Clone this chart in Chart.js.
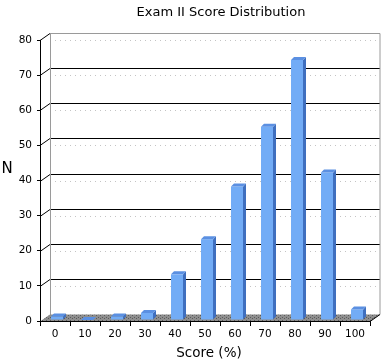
<!DOCTYPE html>
<html>
<head>
<meta charset="utf-8">
<script src="https://cdn.jsdelivr.net/npm/chart.js@4/dist/chart.umd.min.js"></script>
<style>
  html, body { margin: 0; padding: 0; background: #fff; }
</style>
</head>
<body>
<canvas id="scoreChart" width="390" height="364"></canvas>
<script>
// Exam II — score histogram, drawn as a faux-3D column chart

const CATEGORIES = ["0", "10", "20", "30", "40", "50", "60", "70", "80", "90", "100"];
const COUNTS = [1, 0, 1, 2, 13, 23, 38, 55, 74, 42, 3];
const Y_TICKS = [0, 10, 20, 30, 40, 50, 60, 70, 80];

const TITLE = "Exam II Score Distribution";
const X_TITLE = "Score (%)";
const Y_TITLE = "N";

const FONT = "'DejaVu Sans', Verdana, sans-serif";
const WALL_DX = 10, WALL_DY = 7;   // depth of the back wall
const BAR_DX = 3, BAR_DY = 3;      // depth of each column

function line(ctx, x1, y1, x2, y2) {
  ctx.beginPath();
  ctx.moveTo(x1, y1);
  ctx.lineTo(x2, y2);
  ctx.stroke();
}

function floorPattern(ctx) {
  const c = document.createElement("canvas");
  c.width = 4; c.height = 3;
  const p = c.getContext("2d");
  p.fillStyle = "#8e8e8e";
  p.fillRect(0, 0, 4, 3);
  p.fillStyle = "#5a5a5a";
  p.fillRect(0, 0, 1, 1);
  p.fillRect(2, 2, 1, 1);
  return ctx.createPattern(c, "repeat");
}

const wall3d = {
  id: "wall3d",
  beforeDatasetsDraw(chart) {
    const { ctx, chartArea: { left, right, bottom }, scales: { y } } = chart;
    const bl = left + WALL_DX, br = right + WALL_DX;
    const yMax = Y_TICKS[Y_TICKS.length - 1];
    const bt = Math.round(y.getPixelForValue(yMax)) - WALL_DY + 0.5;
    const bb = Math.round(y.getPixelForValue(0)) - WALL_DY + 0.5;

    ctx.save();
    ctx.lineWidth = 1;

    // faint dotted rows on the wall
    ctx.strokeStyle = "#c4c4c4";
    ctx.setLineDash([1, 4]);
    Y_TICKS.slice(1).forEach(v => {
      const py = Math.round(y.getPixelForValue(v)) + 0.5;
      line(ctx, bl, py, br, py);
    });
    ctx.setLineDash([]);

    // back grid lines and the slanted ticks that join them
    Y_TICKS.slice(1).forEach(v => {
      const fy = Math.round(y.getPixelForValue(v)) + 0.5;
      const by = fy - WALL_DY;
      ctx.strokeStyle = "#000";
      if (v < yMax) line(ctx, bl, by, br, by);
      line(ctx, left, fy, bl, by);
    });

    // wall edges
    ctx.strokeStyle = "#9a9a9a";
    line(ctx, bl, bt, br, bt);
    line(ctx, bl + 0.5, bt, bl + 0.5, bb);
    line(ctx, br, bt, br, bb);

    // floor
    const fb = Math.round(bottom) + 0.5;
    ctx.fillStyle = floorPattern(ctx);
    ctx.beginPath();
    ctx.moveTo(left, fb);
    ctx.lineTo(right, fb);
    ctx.lineTo(br, bb);
    ctx.lineTo(bl, bb);
    ctx.closePath();
    ctx.fill();
    ctx.strokeStyle = "#000";
    line(ctx, left, fb, right, fb);
    line(ctx, right, fb, br, bb);
    ctx.restore();

    // columns sit a little behind the front edge
    ctx.save();
    ctx.translate(2, -1);
  },
  afterDatasetsDraw(chart) {
    const { ctx } = chart;
    chart.getDatasetMeta(0).data.forEach(bar => {
      const { x, y, base, width } = bar.getProps(["x", "y", "base", "width"], true);
      const l = x - width / 2, r = x + width / 2;
      // side face
      ctx.fillStyle = "#3f6fbf";
      ctx.beginPath();
      ctx.moveTo(r, y);
      ctx.lineTo(r + BAR_DX, y - BAR_DY);
      ctx.lineTo(r + BAR_DX, base - BAR_DY);
      ctx.lineTo(r, base);
      ctx.closePath();
      ctx.fill();
      // top face
      ctx.fillStyle = "#5b90e2";
      ctx.beginPath();
      ctx.moveTo(l, y);
      ctx.lineTo(l + BAR_DX, y - BAR_DY);
      ctx.lineTo(r + BAR_DX, y - BAR_DY);
      ctx.lineTo(r, y);
      ctx.closePath();
      ctx.fill();
    });
    ctx.restore();
  },
  afterDraw(chart) {
    const { ctx } = chart;
    ctx.save();
    ctx.fillStyle = "#000";
    ctx.textAlign = "center";
    ctx.textBaseline = "alphabetic";
    ctx.font = "13px " + FONT;
    ctx.fillText(TITLE, 221, 16);
    ctx.font = "13.5px " + FONT;
    ctx.fillText(X_TITLE, 209, 357);
    ctx.font = "15px " + FONT;
    ctx.fillText(Y_TITLE, 7, 173);
    ctx.restore();
  }
};

new Chart(document.getElementById("scoreChart"), {
  type: "bar",
  data: {
    labels: CATEGORIES,
    datasets: [{
      data: COUNTS,
      backgroundColor: "#72acf6",
      borderWidth: 0,
      barPercentage: 0.4,
      categoryPercentage: 1.0,
    }],
  },
  options: {
    responsive: false,
    animation: false,
    layout: { padding: { top: 40, right: 20, left: 0, bottom: 0 } },
    plugins: {
      legend: { display: false },
      tooltip: { enabled: false },
      title: { display: false },
    },
    scales: {
      x: {
        grid: { offset: true, drawOnChartArea: false, color: "#000", tickLength: 5 },
        border: { color: "#000" },
        ticks: {
          color: "#000",
          font: { family: FONT, size: 10.5 },
          padding: 2,
          maxRotation: 0,
          autoSkip: false,
        },
        afterFit: s => { s.height = 43; },
      },
      y: {
        min: Y_TICKS[0],
        max: Y_TICKS[Y_TICKS.length - 1],
        ticks: {
          stepSize: 10,
          color: "#000",
          font: { family: FONT, size: 10.5 },
          padding: 5,
        },
        grid: { drawOnChartArea: false, color: "#000", tickLength: 3 },
        border: { color: "#000" },
        afterFit: s => { s.width = 40; },
      },
    },
  },
  plugins: [wall3d],
});
</script>
</body>
</html>
